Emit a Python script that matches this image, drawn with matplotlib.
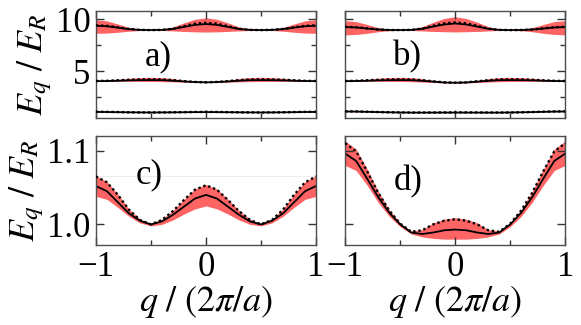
import matplotlib
matplotlib.use("Agg")
import matplotlib.pyplot as plt
import numpy as np
from matplotlib.ticker import FixedLocator

plt.rcParams['font.family'] = ['Liberation Serif', 'DejaVu Serif']
plt.rcParams['mathtext.fontset'] = 'stix'

# quasi-momentum grid, q / (2pi/a)
q = np.linspace(-1, 1, 21)

# --- lowest band (panels c, d and bottom curve of a, b) ---
c_solid = [1.052, 1.045, 1.030, 1.015, 1.005, 1.000, 1.004, 1.013, 1.024, 1.035, 1.040,
           1.035, 1.024, 1.013, 1.004, 1.000, 1.005, 1.015, 1.030, 1.045, 1.052]
c_dot = [1.065, 1.057, 1.040, 1.020, 1.006, 1.000, 1.006, 1.018, 1.033, 1.047, 1.053,
         1.047, 1.033, 1.018, 1.006, 1.000, 1.006, 1.020, 1.040, 1.057, 1.065]
c_hi = [1.066, 1.058, 1.041, 1.021, 1.007, 1.001, 1.007, 1.019, 1.034, 1.048, 1.054,
        1.048, 1.034, 1.019, 1.007, 1.001, 1.007, 1.021, 1.041, 1.058, 1.066]
c_lo = [1.038, 1.034, 1.023, 1.011, 1.002, 0.998, 1.000, 1.006, 1.014, 1.021, 1.025,
        1.021, 1.014, 1.006, 1.000, 0.998, 1.002, 1.011, 1.023, 1.034, 1.038]

d_solid = [1.096, 1.086, 1.062, 1.037, 1.016, 1.000, 0.989, 0.987, 0.989, 0.992, 0.993,
           0.992, 0.989, 0.987, 0.989, 1.000, 1.016, 1.037, 1.062, 1.086, 1.096]
d_dot = [1.110, 1.099, 1.072, 1.043, 1.019, 1.001, 0.990, 0.992, 1.000, 1.005, 1.007,
         1.005, 1.000, 0.992, 0.990, 1.001, 1.019, 1.043, 1.072, 1.099, 1.110]
d_hi = [1.113, 1.102, 1.075, 1.045, 1.020, 1.002, 0.991, 0.993, 1.002, 1.007, 1.009,
        1.007, 1.002, 0.993, 0.991, 1.002, 1.020, 1.045, 1.075, 1.102, 1.113]
d_lo = [1.080, 1.073, 1.053, 1.030, 1.011, 0.997, 0.987, 0.983, 0.981, 0.980, 0.980,
        0.980, 0.981, 0.983, 0.987, 0.997, 1.011, 1.030, 1.053, 1.073, 1.080]

# --- second band (panels a, b) ---
a2_solid = [4.03, 4.04, 4.07, 4.10, 4.12, 4.13, 4.12, 4.07, 4.00, 3.94, 3.91,
            3.94, 4.00, 4.07, 4.12, 4.13, 4.12, 4.10, 4.07, 4.04, 4.03]
a2_dot = [4.04, 4.06, 4.11, 4.16, 4.19, 4.20, 4.19, 4.13, 4.03, 3.95, 3.92,
          3.95, 4.03, 4.13, 4.19, 4.20, 4.19, 4.16, 4.11, 4.06, 4.04]
a2_hi = [4.06, 4.09, 4.18, 4.30, 4.37, 4.40, 4.37, 4.27, 4.11, 3.97, 3.93,
         3.97, 4.11, 4.27, 4.37, 4.40, 4.37, 4.30, 4.18, 4.09, 4.06]
a2_lo = [4.00, 4.00, 4.01, 4.01, 4.00, 3.99, 3.98, 3.96, 3.93, 3.90, 3.89,
         3.90, 3.93, 3.96, 3.98, 3.99, 4.00, 4.01, 4.01, 4.00, 4.00]

b2_solid = [4.03, 4.04, 4.07, 4.10, 4.12, 4.13, 4.12, 4.06, 3.98, 3.90, 3.87,
            3.90, 3.98, 4.06, 4.12, 4.13, 4.12, 4.10, 4.07, 4.04, 4.03]
b2_dot = [4.04, 4.06, 4.11, 4.16, 4.19, 4.20, 4.19, 4.12, 4.01, 3.91, 3.88,
          3.91, 4.01, 4.12, 4.19, 4.20, 4.19, 4.16, 4.11, 4.06, 4.04]
b2_hi = [4.06, 4.09, 4.18, 4.30, 4.37, 4.40, 4.37, 4.26, 4.09, 3.94, 3.89,
         3.94, 4.09, 4.26, 4.37, 4.40, 4.37, 4.30, 4.18, 4.09, 4.06]
b2_lo = [4.00, 4.00, 4.01, 4.01, 4.00, 3.99, 3.97, 3.94, 3.90, 3.86, 3.85,
         3.86, 3.90, 3.94, 3.97, 3.99, 4.00, 4.01, 4.01, 4.00, 4.00]

# --- third band (panels a, b) ---
a3_solid = [9.38, 9.33, 9.20, 9.05, 8.98, 8.96, 8.98, 9.07, 9.27, 9.46, 9.55,
            9.46, 9.27, 9.07, 8.98, 8.96, 8.98, 9.05, 9.20, 9.33, 9.38]
a3_dot = [9.42, 9.37, 9.23, 9.07, 8.98, 8.96, 8.98, 9.08, 9.34, 9.58, 9.67,
          9.58, 9.34, 9.08, 8.98, 8.96, 8.98, 9.07, 9.23, 9.37, 9.42]
a3_hi = [9.95, 9.85, 9.55, 9.22, 9.04, 9.00, 9.04, 9.27, 9.66, 10.00, 10.15,
         10.00, 9.66, 9.27, 9.04, 9.00, 9.04, 9.22, 9.55, 9.85, 9.95]
a3_lo = [8.65, 8.67, 8.75, 8.85, 8.92, 8.93, 8.92, 8.88, 8.83, 8.79, 8.77,
         8.79, 8.83, 8.88, 8.92, 8.93, 8.92, 8.85, 8.75, 8.67, 8.65]

b3_solid = [9.25, 9.21, 9.11, 9.01, 8.97, 8.96, 8.98, 9.08, 9.30, 9.50, 9.60,
            9.50, 9.30, 9.08, 8.98, 8.96, 8.97, 9.01, 9.11, 9.21, 9.25]
b3_dot = [9.28, 9.24, 9.13, 9.02, 8.97, 8.96, 8.98, 9.10, 9.38, 9.61, 9.70,
          9.61, 9.38, 9.10, 8.98, 8.96, 8.97, 9.02, 9.13, 9.24, 9.28]
b3_hi = [9.87, 9.78, 9.50, 9.20, 9.04, 9.00, 9.05, 9.30, 9.72, 10.08, 10.25,
         10.08, 9.72, 9.30, 9.05, 9.00, 9.04, 9.20, 9.50, 9.78, 9.87]
b3_lo = [8.50, 8.54, 8.65, 8.80, 8.90, 8.93, 8.92, 8.88, 8.83, 8.80, 8.78,
         8.80, 8.83, 8.88, 8.92, 8.93, 8.90, 8.80, 8.65, 8.54, 8.50]

RED = '#ff6464'
YLAB = r'$E_q\ /\ E_R$'
XLAB = r'$q\ /\ (2\pi/a)$'
FS_TICK = 25
FS_LAB = 26
FS_PANEL = 25

fig = plt.figure(figsize=(5.81, 3.25), dpi=100)
ax_a = fig.add_axes([0.165, 0.638, 0.379, 0.328])
ax_b = fig.add_axes([0.594, 0.638, 0.379, 0.328])
ax_c = fig.add_axes([0.165, 0.246, 0.379, 0.336])
ax_d = fig.add_axes([0.594, 0.246, 0.379, 0.336])


def draw_band(ax, lo, hi, solid, dot):
    ax.fill_between(q, lo, hi, color=RED, lw=0, zorder=1)
    ax.plot(q, solid, color='black', lw=1.3, zorder=2)
    ax.plot(q, dot, color='black', lw=1.7, ls=(0, (1, 1.2)), zorder=3)


def style(ax):
    ax.set_xlim(-1, 1)
    ax.xaxis.set_major_locator(FixedLocator([-1, 0, 1]))
    ax.xaxis.set_minor_locator(FixedLocator([-0.5, 0.5]))
    ax.tick_params(which='both', direction='in', top=True, right=True,
                   color='0.2', labelsize=FS_TICK, pad=4)
    ax.tick_params(which='major', length=6, width=1)
    ax.tick_params(which='minor', length=3.5, width=1)
    for s in ax.spines.values():
        s.set_color('0.3')
        s.set_linewidth(1)


# panels a and b: three lowest bands
for ax, bands, lab in [(ax_a, [(c_lo, c_hi, c_solid, c_dot), (a2_lo, a2_hi, a2_solid, a2_dot),
                               (a3_lo, a3_hi, a3_solid, a3_dot)], 'a)'),
                       (ax_b, [(d_lo, d_hi, d_solid, d_dot), (b2_lo, b2_hi, b2_solid, b2_dot),
                               (b3_lo, b3_hi, b3_solid, b3_dot)], 'b)')]:
    for bd in bands:
        draw_band(ax, *bd)
    style(ax)
    ax.set_ylim(0.5, 10.8)
    ax.yaxis.set_major_locator(FixedLocator([5, 10]))
    ax.yaxis.set_minor_locator(FixedLocator([2.5, 7.5]))
    ax.set_xticklabels([])
    ax.text(0.285, 0.57, lab, transform=ax.transAxes, ha='center', va='center', fontsize=FS_PANEL)

ax_b.set_yticklabels([])
ax_a.set_ylabel(YLAB, fontsize=FS_LAB, labelpad=1)

# panels c and d: lowest band zoomed in
ax_c.axhline(1.066, color='0.93', lw=0.8, zorder=0)
draw_band(ax_c, c_lo, c_hi, c_solid, c_dot)
draw_band(ax_d, d_lo, d_hi, d_solid, d_dot)
for ax, lab, (tx, ty) in [(ax_c, 'c)', (0.24, 0.645)), (ax_d, 'd)', (0.285, 0.58))]:
    style(ax)
    ax.set_ylim(0.972, 1.12)
    ax.yaxis.set_major_locator(FixedLocator([1.0, 1.1]))
    ax.set_xticklabels(['\u22121', '0', '1'])
    ax.set_xlabel(XLAB, fontsize=FS_LAB, labelpad=0)
    ax.text(tx, ty, lab, transform=ax.transAxes, ha='center', va='center', fontsize=FS_PANEL)

ax_c.set_yticklabels(['1.0', '1.1'])
ax_d.set_yticklabels([])
ax_c.set_ylabel(YLAB, fontsize=FS_LAB, labelpad=1)

fig.savefig('out.png', dpi=100)
